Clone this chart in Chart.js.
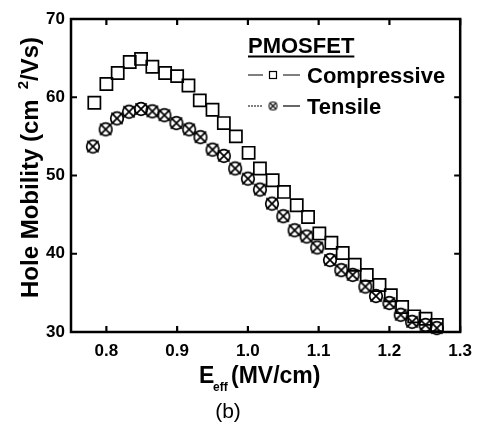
<!DOCTYPE html>
<html><head><meta charset="utf-8">
<script src="https://cdn.jsdelivr.net/npm/chart.js@4/dist/chart.umd.min.js"></script>
<style>html,body{margin:0;padding:0;background:#fff}</style>
</head><body>
<canvas id="c" width="481" height="425"></canvas>
<script>
// ---- data ----
const compressiveE  = [0.783,0.800,0.816,0.833,0.849,0.865,0.883,0.900,0.916,0.932,0.950,0.966,0.983,1.001,1.017,1.035,1.051,1.069,1.085,1.101,1.118,1.134,1.151,1.168,1.186,1.202,1.218,1.235,1.251,1.267];
const compressiveMu = [59.3,61.7,63.1,64.5,64.9,63.9,63.1,62.7,61.5,59.6,58.4,56.7,55.0,52.9,50.9,49.4,47.9,46.2,44.7,42.6,41.4,40.1,38.6,37.3,36.0,34.7,33.2,32.0,31.7,30.9];
const tensileE  = [0.781,0.799,0.815,0.832,0.849,0.865,0.882,0.899,0.917,0.933,0.950,0.966,0.982,1.000,1.017,1.034,1.050,1.066,1.083,1.098,1.116,1.132,1.148,1.166,1.181,1.200,1.216,1.232,1.251,1.267];
const tensileMu = [53.7,55.9,57.3,58.15,58.5,58.2,57.7,56.7,55.9,54.9,53.3,52.5,50.9,49.6,48.2,46.4,44.8,43.0,42.2,40.8,39.2,37.9,37.3,35.8,34.6,33.7,32.2,31.3,30.9,30.5];
const xTickLabels = ['0.8','0.9','1.0','1.1','1.2','1.3'];
const yTickLabels = ['30','40','50','60','70'];
const seriesNames = ['Compressive','Tensile'];
const legendTitle = 'PMOSFET';

const FONT = '"Liberation Sans", Arial, Helvetica, sans-serif';

function makeCircleX(r, ext, lw){
  const s = Math.ceil((Math.max(r, ext) + lw) * 2) + 2;
  const c = document.createElement('canvas'); c.width = s; c.height = s;
  const g = c.getContext('2d'); const m = s / 2;
  g.strokeStyle = '#000'; g.lineWidth = lw;
  g.beginPath(); g.arc(m, m, r, 0, Math.PI * 2); g.stroke();
  g.beginPath();
  g.moveTo(m - ext, m - ext); g.lineTo(m + ext, m + ext);
  g.moveTo(m + ext, m - ext); g.lineTo(m - ext, m + ext);
  g.stroke();
  return c;
}
const circleX = makeCircleX(6.3, 5.6, 1.7);
const circleXSmall = makeCircleX(4, 3.5, 1.1);

const toPts = (xs, ys) => xs.map((x, i) => ({x: x, y: ys[i]}));

const decor = {
  id: 'decor',
  beforeDatasetsDraw(chart){
    const {ctx, chartArea: a, scales: {x, y}} = chart;
    ctx.save();
    ctx.strokeStyle = '#000';
    ctx.lineWidth = 2.5;
    ctx.strokeRect(a.left, a.top, a.right - a.left, a.bottom - a.top);
    ctx.lineWidth = 2.2;
    const tl = 6;
    ctx.beginPath();
    x.ticks.forEach(t => {
      const p = x.getPixelForValue(t.value);
      ctx.moveTo(p, a.bottom); ctx.lineTo(p, a.bottom - tl);
      ctx.moveTo(p, a.top); ctx.lineTo(p, a.top + tl);
    });
    y.ticks.forEach(t => {
      const p = y.getPixelForValue(t.value);
      ctx.moveTo(a.left, p); ctx.lineTo(a.left + tl, p);
      ctx.moveTo(a.right, p); ctx.lineTo(a.right - tl, p);
    });
    ctx.stroke();
    ctx.restore();
  },
  afterDraw(chart){
    const ctx = chart.ctx;
    ctx.save();
    ctx.fillStyle = '#000';
    ctx.strokeStyle = '#000';
    // x title
    ctx.textBaseline = 'alphabetic';
    ctx.textAlign = 'left';
    ctx.font = 'bold 23px ' + FONT;
    ctx.fillText('E', 199, 383);
    ctx.font = 'bold 12px ' + FONT;
    ctx.fillText('eff', 213, 391);
    ctx.font = 'bold 23px ' + FONT;
    ctx.fillText('(MV/cm)', 231, 383);
    // (b)
    ctx.font = '21px ' + FONT;
    ctx.textAlign = 'center';
    ctx.fillText('(b)', 228, 418);
    // y title rotated
    ctx.save();
    ctx.translate(38, 298);
    ctx.rotate(-Math.PI / 2);
    ctx.textAlign = 'left';
    ctx.font = 'bold 24px ' + FONT;
    const p1 = 'Hole Mobility (cm';
    ctx.fillText(p1, 0, 0);
    let w = ctx.measureText(p1).width + 10;
    ctx.font = 'bold 15px ' + FONT;
    ctx.fillText('2', w, -10);
    w += ctx.measureText('2').width;
    ctx.font = 'bold 24px ' + FONT;
    ctx.fillText('/Vs)', w, 0);
    ctx.restore();
    // legend
    ctx.textAlign = 'left';
    ctx.font = 'bold 22px ' + FONT;
    ctx.fillText(legendTitle, 248, 53);
    const tw = ctx.measureText(legendTitle).width;
    ctx.lineWidth = 2.2;
    ctx.beginPath(); ctx.moveTo(248, 56.5); ctx.lineTo(248 + tw, 56.5); ctx.stroke();
    // Compressive row
    ctx.lineWidth = 1.2;
    ctx.beginPath();
    ctx.moveTo(248, 75); ctx.lineTo(263, 75);
    ctx.moveTo(283, 75); ctx.lineTo(300, 75);
    ctx.stroke();
    ctx.strokeRect(269.5, 71.5, 7, 7);
    ctx.fillText(seriesNames[0], 307, 83);
    // Tensile row
    ctx.save();
    ctx.setLineDash([2, 1]);
    ctx.lineWidth = 1;
    ctx.beginPath(); ctx.moveTo(248, 106); ctx.lineTo(263, 106); ctx.stroke();
    ctx.restore();
    ctx.lineWidth = 1.2;
    ctx.beginPath(); ctx.moveTo(283, 106); ctx.lineTo(300, 106); ctx.stroke();
    ctx.drawImage(circleXSmall, 273 - circleXSmall.width / 2, 106 - circleXSmall.height / 2);
    ctx.fillText(seriesNames[1], 307, 114);
    ctx.restore();
  }
};

new Chart(document.getElementById('c'), {
  type: 'scatter',
  data: {
    datasets: [
      {
        label: seriesNames[0],
        data: toPts(compressiveE, compressiveMu),
        pointStyle: 'rect',
        radius: 8.6,
        borderWidth: 1.7,
        borderColor: '#000',
        backgroundColor: 'rgba(0,0,0,0)',
        showLine: false,
        clip: false
      },
      {
        label: seriesNames[1],
        data: toPts(tensileE, tensileMu),
        pointStyle: circleX,
        radius: 7,
        borderColor: '#000',
        backgroundColor: 'rgba(0,0,0,0)',
        showLine: false,
        clip: false
      }
    ]
  },
  options: {
    responsive: false,
    animation: false,
    devicePixelRatio: 1,
    layout: {autoPadding: false, padding: {left: 0, right: 18, top: 19, bottom: 0}},
    plugins: {legend: {display: false}, tooltip: {enabled: false}},
    scales: {
      x: {
        type: 'linear', min: 0.75, max: 1.3,
        grid: {display: false, drawTicks: false},
        border: {display: false},
        afterBuildTicks: s => { s.ticks = xTickLabels.map(l => ({value: parseFloat(l)})); },
        afterFit: s => { s.height = 93; },
        ticks: {
          autoSkip: false, maxRotation: 0, padding: 9,
          color: '#000', font: {family: FONT, size: 17, weight: 'bold'},
          callback: (v, i) => xTickLabels[i]
        }
      },
      y: {
        type: 'linear', min: 30, max: 70,
        grid: {display: false, drawTicks: false},
        border: {display: false},
        afterBuildTicks: s => { s.ticks = yTickLabels.map(l => ({value: parseFloat(l)})); },
        afterFit: s => { s.width = 71; },
        ticks: {
          padding: 6,
          color: '#000', font: {family: FONT, size: 17, weight: 'bold'},
          callback: (v, i) => yTickLabels[i]
        }
      }
    }
  },
  plugins: [decor]
});
</script>
</body></html>
